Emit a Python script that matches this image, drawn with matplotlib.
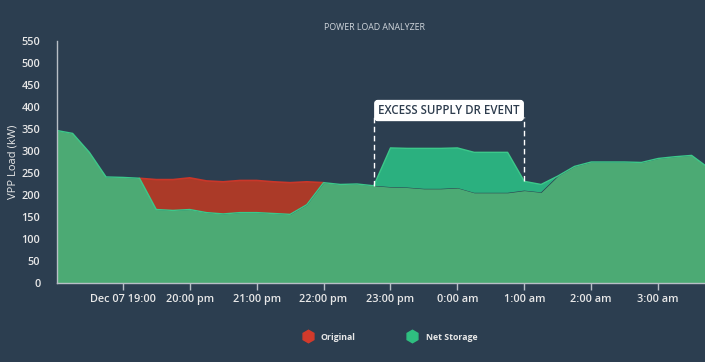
import matplotlib
matplotlib.use('Agg')
import matplotlib.pyplot as plt
from matplotlib.lines import Line2D
import numpy as np
import pandas as pd

# 15 minute readings, Dec 07 18:00 -> Dec 08 03:45
times = pd.date_range('2016-12-07 18:00', periods=40, freq='15min')
original = [347, 340, 297, 241, 240, 238, 235, 235, 239, 232,
            230, 233, 233, 230, 228, 230, 228, 224, 225, 221,
            218, 217, 214, 214, 216, 205, 205, 205, 210, 206,
            243, 265, 275, 275, 275, 274, 283, 287, 290, 262]
net_storage = [347, 340, 297, 241, 240, 238, 167, 165, 167, 160,
               157, 160, 160, 158, 156, 178, 228, 224, 225, 221,
               307, 306, 306, 306, 307, 297, 297, 297, 231, 224,
               243, 265, 275, 275, 275, 274, 283, 287, 290, 262]
tick_times = pd.date_range('2016-12-07 19:00', periods=9, freq='1h')
tick_labels = ['Dec 07 19:00', '20:00 pm', '21:00 pm', '22:00 pm', '23:00 pm',
               '0:00 am', '1:00 am', '2:00 am', '3:00 am']
event_start = pd.Timestamp('2016-12-07 22:45')
event_end = pd.Timestamp('2016-12-08 01:00')
event_label = 'EXCESS SUPPLY DR EVENT'

bg = '#2c3e50'
plt.rcParams['font.family'] = ['Open Sans', 'DejaVu Sans']

orig = np.array(original, dtype=float)
net = np.array(net_storage, dtype=float)
low = np.minimum(orig, net)

fig = plt.figure(figsize=(7.05, 3.62), dpi=100, facecolor=bg)
ax = fig.add_axes([57/705, 79/362, 648/705, 242/362], facecolor=bg)

ax.fill_between(times, 0, low, color='#4caa74', lw=0)
ax.fill_between(times, low, orig, where=orig >= net, interpolate=True,
                color='#ab3a28', lw=0)
ax.fill_between(times, low, net, where=net >= orig, interpolate=True,
                color='#2bb07f', lw=0)

# red edge only where original sits above net storage (plus the joining points)
above = orig > net
show = above | np.r_[above[1:], False] | np.r_[False, above[:-1]]
ax.plot(times, np.ma.masked_where(~show, orig), color='#c9372a', lw=1.2)
ax.plot(times, net, color='#3cc88a', lw=1.0)

# DR event marker
ystart = net[list(times).index(event_start)]
yend = net[list(times).index(event_end)]
ax.vlines([event_start], ystart, 378, colors='white', linestyles=(0, (4, 2.5)), lw=1)
ax.vlines([event_end], yend, 378, colors='white', linestyles=(0, (4, 2.5)), lw=1)
ax.text(event_start + (event_end - event_start) / 2, 392, event_label,
        ha='center', va='center', fontsize=8.3, fontweight='semibold',
        color='#2e3d4e',
        bbox=dict(boxstyle='round,pad=0.3,rounding_size=0.25', fc='white', ec='white'))

ax.set_ylim(0, 550)
ax.set_yticks(range(0, 551, 50))
ax.set_xlim(pd.Timestamp('2016-12-07 18:01'), pd.Timestamp('2016-12-08 03:42'))
ax.set_xticks(tick_times)
ax.set_xticklabels(tick_labels)
ax.tick_params(axis='x', colors='#b8bfc6', length=5, width=1, labelcolor='#e8e8e8',
               labelsize=7.8, pad=3)
ax.tick_params(axis='y', length=0, labelcolor='#e8e8e8', labelsize=7.8, pad=12)
for lab in ax.get_xticklabels() + ax.get_yticklabels():
    lab.set_fontweight('semibold')
for s in ['top', 'right']:
    ax.spines[s].set_visible(False)
for s in ['left', 'bottom']:
    ax.spines[s].set_color('#b8bfc6')
    ax.spines[s].set_linewidth(1)
ax.set_ylabel('VPP Load (kW)', color='#e8e8e8', fontsize=8, labelpad=2)

fig.text(374/705, 1 - 27/362, 'POWER LOAD ANALYZER', ha='center', va='center',
         color='#d0d6dc', fontsize=6.3)

handles = [Line2D([], [], marker='h', ls='', color='#d23a2b', markersize=9),
           Line2D([], [], marker='h', ls='', color='#2fbf80', markersize=9)]
leg = fig.legend(handles, ['Original', 'Net Storage'], loc='center',
                 bbox_to_anchor=(388/705, 1 - 337/362), ncol=2, frameon=False,
                 handletextpad=0.5, columnspacing=5.5,
                 prop={'weight': 'bold', 'size': 6.3})
for t in leg.get_texts():
    t.set_color('#e8e8e8')

plt.savefig('out.png', dpi=100, facecolor=bg)
